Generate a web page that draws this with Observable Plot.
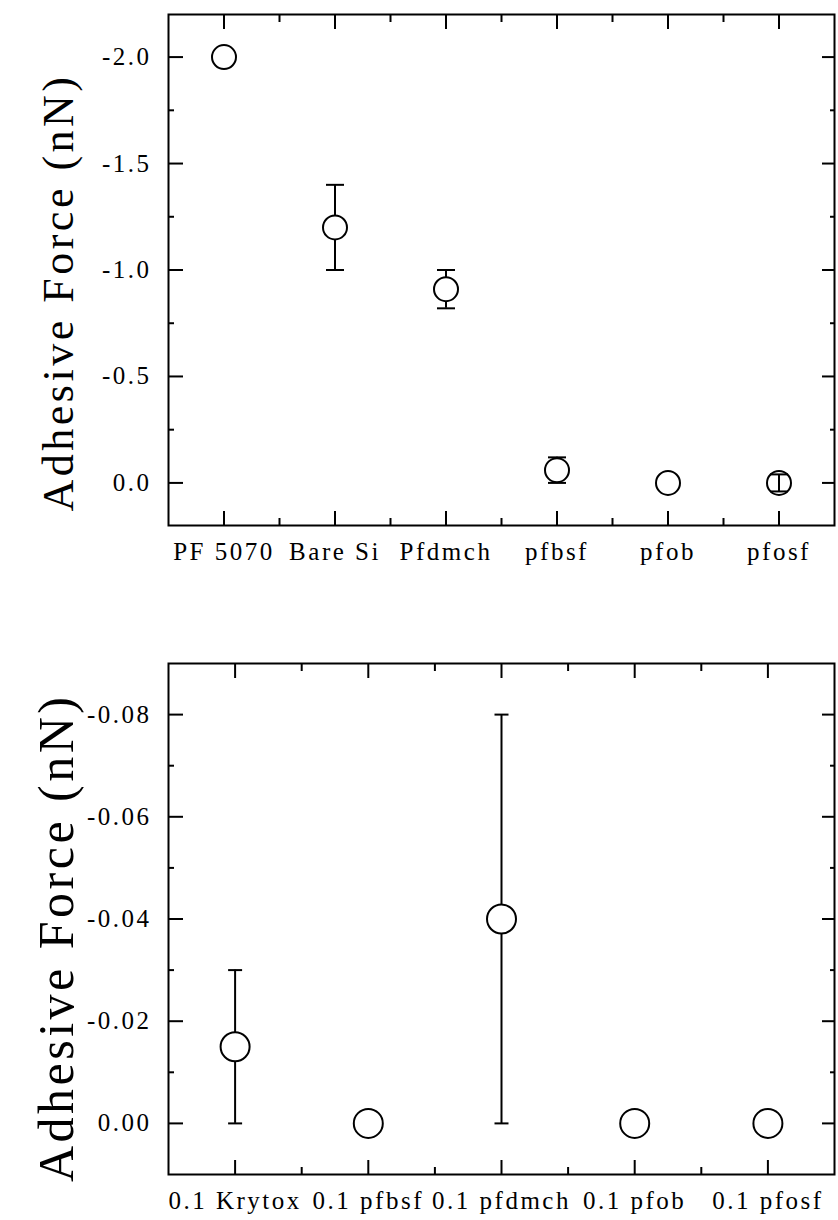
<!DOCTYPE html>
<html><head><meta charset="utf-8">
<script src="https://cdn.jsdelivr.net/npm/d3@7"></script>
<script src="https://cdn.jsdelivr.net/npm/@observablehq/plot@0.6"></script>
<style>
  body { margin: 0; background: #fff; }
  #chart svg { display: block; }
  #chart g[aria-label="text"] text { letter-spacing: 3.5px; }
</style>
</head><body><div id="chart"></div>
<script>
// ---------- Top panel data ----------
const topCategories = ["PF 5070", "Bare Si", "Pfdmch", "pfbsf", "pfob", "pfosf"];
const topForce      = [-2.0, -1.2, -0.91, -0.06, 0.0, 0.0];
const topErrLow     = [null, -1.4, -1.0, -0.12, null, -0.04];
const topErrHigh    = [null, -1.0, -0.82, 0.0, null, 0.04];
const topYTicks     = [-2.0, -1.5, -1.0, -0.5, 0.0];
const topYMinor     = [-1.75, -1.25, -0.75, -0.25];
const topYDomain    = [0.2, -2.2];

// ---------- Bottom panel data ----------
const botCategories = ["0.1 Krytox", "0.1 pfbsf", "0.1 pfdmch", "0.1 pfob", "0.1 pfosf"];
const botForce      = [-0.015, 0.0, -0.04, 0.0, 0.0];
const botErrLow     = [-0.03, null, -0.08, null, null];
const botErrHigh    = [0.0, null, 0.0, null, null];
const botYTicks     = [-0.08, -0.06, -0.04, -0.02, 0.0];
const botYMinor     = [-0.07, -0.05, -0.03, -0.01];
const botYDomain    = [0.01, -0.09];

const yTitle = "Adhesive Force (nN)";

const capSymbol = {
  draw(ctx, size) {
    const w = Math.sqrt(size / Math.PI);
    ctx.moveTo(-w, 0);
    ctx.lineTo(w, 0);
  }
};

function panel(cfg) {
  const n = cfg.categories.length;
  const rows = cfg.categories.map((c, k) => ({
    i: k + 1, cat: c, v: cfg.force[k], lo: cfg.errLow[k], hi: cfg.errHigh[k]
  }));
  const withErr = rows.filter(d => d.lo != null);
  const xMajor = d3.range(1, n + 1);
  const xMinor = d3.range(1.5, n, 1);
  const span = Math.abs(cfg.yDomain[0] - cfg.yDomain[1]);
  const plotH = cfg.height - cfg.marginTop - cfg.marginBottom;
  const inner = withErr.filter(d => Math.abs(d.hi - d.lo) / span * plotH < 2 * cfg.r);
  const tick = {fill: "none", stroke: "black", strokeWidth: 2, label: null};
  return Plot.plot({
    width: 838,
    height: cfg.height,
    marginLeft: 168,
    marginRight: 4,
    marginTop: cfg.marginTop,
    marginBottom: cfg.marginBottom,
    style: {fontFamily: "'Liberation Serif', 'Times New Roman', serif", letterSpacing: "2.5px", color: "black", background: "white", overflow: "visible"},
    x: {type: "linear", domain: [0.5, n + 0.5], axis: null},
    y: {type: "linear", domain: cfg.yDomain, axis: null},
    marks: [
      Plot.axisY(cfg.yTicks, {...tick, anchor: "left", tickSize: -15}),
      Plot.axisY(cfg.yMinor, {...tick, anchor: "left", tickSize: -6}),
      Plot.axisY(cfg.yTicks, {...tick, anchor: "right", tickSize: -13}),
      Plot.axisY(cfg.yMinor, {...tick, anchor: "right", tickSize: -5}),
      Plot.axisX(xMajor, {...tick, anchor: "top", tickSize: -14}),
      Plot.axisX(xMinor, {...tick, anchor: "top", tickSize: -7}),
      Plot.axisX(xMajor, {...tick, anchor: "bottom", tickSize: -14}),
      Plot.axisX(xMinor, {...tick, anchor: "bottom", tickSize: -7}),
      Plot.axisY(cfg.yTicks, {anchor: "left", tickSize: 0, tickPadding: 17, fontSize: 25, fill: "black", label: null, tickFormat: d => d.toFixed(cfg.digits)}),
      Plot.axisX(xMajor, {anchor: "bottom", tickSize: 0, tickPadding: 17, fontSize: 25, fill: "black", label: null, tickFormat: d => cfg.categories[d - 1]}),
      Plot.frame({stroke: "black", strokeWidth: 2}),
      Plot.text([yTitle], {text: d => d, frameAnchor: "top-left", textAnchor: "end", lineAnchor: "bottom", rotate: -90, dx: -96, dy: cfg.titleDy, fontSize: cfg.titleSize, fill: "black"}),
      Plot.ruleX(withErr, {x: "i", y1: "lo", y2: "hi", stroke: "black", strokeWidth: 2}),
      Plot.dot(rows, {x: "i", y: "v", r: cfg.r, fill: "white", stroke: "black", strokeWidth: 2}),
      Plot.ruleX(inner, {x: "i", y1: "lo", y2: "hi", stroke: "black", strokeWidth: 2}),
      Plot.dot(withErr, {x: "i", y: "lo", r: cfg.capHalf, symbol: capSymbol, fill: "none", stroke: "black", strokeWidth: 2}),
      Plot.dot(withErr, {x: "i", y: "hi", r: cfg.capHalf, symbol: capSymbol, fill: "none", stroke: "black", strokeWidth: 2})
    ]
  });
}

const chart = document.getElementById("chart");
chart.append(panel({
  categories: topCategories, force: topForce, errLow: topErrLow, errHigh: topErrHigh,
  yTicks: topYTicks, yMinor: topYMinor, yDomain: topYDomain, digits: 1,
  height: 575, marginTop: 14, marginBottom: 50, r: 12, capHalf: 9,
  titleSize: 44, titleDy: 59
}));
chart.append(panel({
  categories: botCategories, force: botForce, errLow: botErrLow, errHigh: botErrHigh,
  yTicks: botYTicks, yMinor: botYMinor, yDomain: botYDomain, digits: 2,
  height: 645, marginTop: 88, marginBottom: 46, r: 14.5, capHalf: 7,
  titleSize: 50, titleDy: 30
}));
</script>
</body></html>
